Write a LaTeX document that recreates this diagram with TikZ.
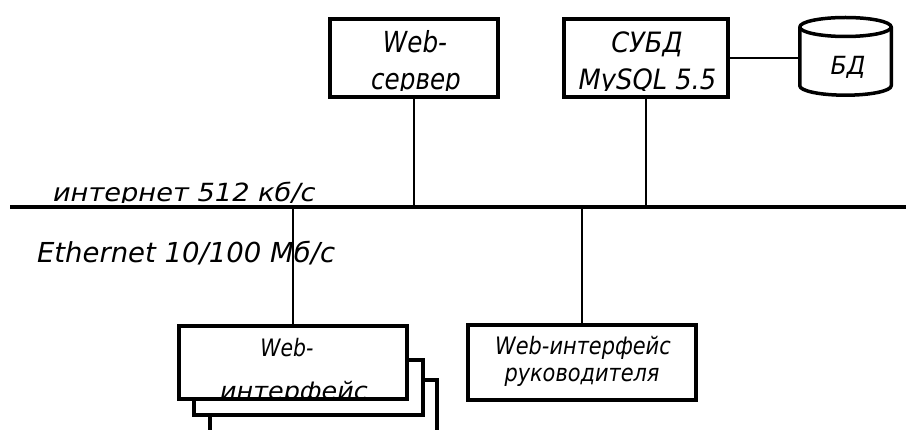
\documentclass[tikz,border=0pt]{standalone}
\usepackage{fontspec}
\newfontfamily\gost{DejaVu Sans}[ItalicFont={DejaVu Sans Oblique}]
% size, horizontal squeeze, text
\newcommand\gtxt[3]{{\fontsize{#1}{#1}\selectfont\scalebox{#2}[1]{#3}}}
\tikzset{
  box/.style={draw, line width=4.2pt, fill=white, inner sep=0pt, outer sep=0pt},
  conn/.style={line width=2pt},
  bus/.style={line width=4.5pt},
  txt/.style={font=\gost\itshape, inner sep=0pt, outer sep=0pt, anchor=base},
}
\begin{document}
\begin{tikzpicture}[x=1pt,y=-1pt]
\useasboundingbox (0,0) rectangle (906,430);

% network bus
\coordinate (busL) at (10,207);
\coordinate (busR) at (906,207);
\draw[bus] (busL) -- (busR);

% servers
\node[box, minimum width=167.8pt, minimum height=77.8pt] (srv) at (414,58) {};
\node[box, minimum width=163.8pt, minimum height=77.8pt] (dbms) at (646,58) {};

% database cylinder (ellipse radii 45.75 x 9.5)
\node[inner sep=0pt, outer sep=0pt, minimum width=91.5pt, minimum height=77.7pt] (cyl) at (845.5,56.35) {};
\draw[line width=3.5pt, line join=round]
  ([yshift=-9.5pt]cyl.north west) -- ([yshift=9.5pt]cyl.south west)
  arc[start angle=180, end angle=360, x radius=45.75pt, y radius=9.5pt]
  -- ([yshift=-9.5pt]cyl.north east)
  arc[start angle=0, end angle=180, x radius=45.75pt, y radius=9.5pt];
\draw[line width=3.5pt] ([yshift=-9.5pt]cyl.north west)
  arc[start angle=180, end angle=360, x radius=45.75pt, y radius=9.5pt];

% client stack
\node[box, minimum width=226.8pt, minimum height=90pt] (cl3) at (323.5,425) {};
\node[box, minimum width=228.8pt, minimum height=54.8pt] (cl2) at (308.5,387.5) {};
\node[box, minimum width=227.8pt, minimum height=72.8pt] (cl1) at (293,362.5) {};

% manager interface
\node[box, minimum width=227.8pt, minimum height=74.8pt] (mgr) at (582,362.5) {};

% connectors
\draw[conn] (srv.south) -- (srv.south |- busL);
\draw[conn] (dbms.south) -- (dbms.south |- busL);
\draw[conn] (dbms.east) -- (cyl.west |- dbms.east);
\draw[conn] (cl1.north) -- (cl1.north |- busL);
\draw[conn] (mgr.north) -- (mgr.north |- busL);

% labels
\begin{scope}
  \clip (srv.north west) rectangle (srv.east |- 0,91);
  \node[txt] (srvA) at (415,53) {\gtxt{29}{0.85}{Web-}};
  \node[txt] (srvB) at (416,90) {\gtxt{29}{0.85}{сервер}};
\end{scope}
\begin{scope}
  \clip (dbms.north west) rectangle (dbms.east |- 0,91);
  \node[txt] (dbmsA) at (647,53) {\gtxt{28}{0.92}{СУБД}};
  \node[txt] (dbmsB) at (647.5,90) {\gtxt{28}{0.92}{MySQL 5.5}};
\end{scope}
\node[txt] (cylT) at (848,75) {\gtxt{25}{0.95}{БД}};

\begin{scope}
  \clip (0,150) rectangle (500,203);
  \node[txt, anchor=base west] (inet) at (53,202) {\gtxt{25}{1.09}{интернет 512 кб/с}};
\end{scope}
\node[txt, anchor=base west] (eth) at (37,263) {\gtxt{27.5}{1}{Ethernet 10/100 Мб/с}};

\begin{scope}
  \clip (cl1.north west) rectangle (cl1.south east);
  \node[txt] (cl1A) at (287,357) {\gtxt{24}{0.85}{Web-}};
  \node[txt] (cl1B) at (294,400) {\gtxt{24}{1.06}{интерфейс}};
\end{scope}
\node[txt] (mgrA) at (583,355) {\gtxt{24}{0.87}{Web-интерфейс}};
\node[txt] (mgrB) at (582,382) {\gtxt{24}{0.87}{руководителя}};
\end{tikzpicture}
\end{document}
